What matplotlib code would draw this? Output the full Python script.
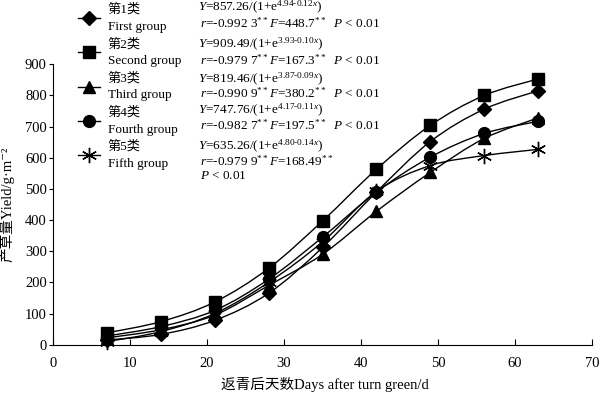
import numpy as np
import matplotlib
matplotlib.use('Agg')
import matplotlib.pyplot as plt
from matplotlib.path import Path
from matplotlib.patches import PathPatch
from matplotlib.lines import Line2D
from matplotlib.legend_handler import HandlerLine2D

plt.rcParams['font.family'] = ['Liberation Serif', 'Noto Sans CJK SC', 'DejaVu Serif']
plt.rcParams['mathtext.fontset'] = 'custom'
plt.rcParams['mathtext.rm'] = 'Liberation Serif'
plt.rcParams['mathtext.it'] = 'Liberation Serif:italic'

# days after turning green
days = [7, 14, 21, 28, 35, 42, 49, 56, 63]

# yield g/m2 for each group
group1 = [15, 33, 78, 165, 312, 490, 652, 756, 815]
group2 = [38, 74, 137, 245, 397, 563, 704, 800, 853]
group3 = [22, 48, 95, 190, 290, 428, 553, 662, 728]
group4 = [28, 58, 110, 210, 345, 490, 602, 678, 717]
group5 = [10, 42, 100, 200, 330, 492, 575, 607, 627]

names_cn = ['第1类', '第2类', '第3类', '第4类', '第5类']
names_en = ['First group', 'Second group', 'Third group', 'Fourth group', 'Fifth group']
equations = [
    r'$Y$=857.26/(1+e$^{\mathrm{4.94\text{-}0.12}x}$)',
    r'$Y$=909.49/(1+e$^{\mathrm{3.93\text{-}0.10}x}$)',
    r'$Y$=819.46/(1+e$^{\mathrm{3.87\text{-}0.09}x}$)',
    r'$Y$=747.76/(1+e$^{\mathrm{4.17\text{-}0.11}x}$)',
    r'$Y$=635.26/(1+e$^{\mathrm{4.80\text{-}0.14}x}$)',
]
stats = [
    r'$r$=-0.992 3$^{**}$$F$=448.7$^{**}$  $P$ < 0.01',
    r'$r$=-0.979 7$^{**}$$F$=167.3$^{**}$  $P$ < 0.01',
    r'$r$=-0.990 9$^{**}$$F$=380.2$^{**}$  $P$ < 0.01',
    r'$r$=-0.982 7$^{**}$$F$=197.5$^{**}$  $P$ < 0.01',
    r'$r$=-0.979 9$^{**}$$F$=168.49$^{**}$',
]
last_p = r'$P$ < 0.01'

series = [group1, group2, group3, group4, group5]
markers = ['D', 's', '^', 'o', (6, 2, 0)]
msizes = [7, 8.5, 9, 8.5, 11]


def smooth_path(x, y):
    # catmull-rom through the points, as bezier segments in data space
    p = np.column_stack([x, y]).astype(float)
    n = len(p)
    verts = [p[0]]
    codes = [Path.MOVETO]
    for i in range(n - 1):
        p0 = p[i - 1] if i > 0 else p[i]
        p3 = p[i + 2] if i + 2 < n else p[i + 1]
        c1 = p[i] + (p[i + 1] - p0) / 6
        c2 = p[i + 1] - (p3 - p[i]) / 6
        verts += [c1, c2, p[i + 1]]
        codes += [Path.CURVE4] * 3
    return Path(verts, codes)


class MarkerLeft(HandlerLine2D):
    def get_xdata(self, legend, xdescent, ydescent, width, height, fontsize):
        return np.array([-xdescent, -xdescent + width]), np.array([-xdescent + 3])


fig = plt.figure(figsize=(6, 3.95), dpi=100)
ax = fig.add_axes([53 / 600, 1 - 344.7 / 395, 539 / 600, 280.4 / 395])

handles = []
for vals, m, ms in zip(series, markers, msizes):
    ax.add_patch(PathPatch(smooth_path(days, vals), fill=False, edgecolor='black', lw=1.0))
    ax.plot(days, vals, linestyle='none', marker=m, markersize=ms, color='black',
            markeredgewidth=1.0, clip_on=False)
    handles.append(Line2D([], [], color='black', lw=1.0, marker=m, markersize=ms,
                          markeredgewidth=1.0))

ax.set_xlim(0, 70)
ax.set_ylim(0, 900)
ax.set_xticks(range(0, 71, 10))
ax.set_yticks(range(0, 901, 100))
ax.spines['top'].set_visible(False)
ax.spines['right'].set_visible(False)
ax.tick_params(axis='x', direction='in', length=4, pad=9, labelsize=10.5)
ax.tick_params(axis='y', direction='out', length=3, pad=1.5, labelsize=10.5)

ax.set_xlabel('返青后天数Days after turn green/d', fontsize=10.5)
ax.xaxis.set_label_coords(0.505, -0.115)
ax.set_ylabel('产草量Yield/g·m⁻²', fontsize=10.5)
ax.yaxis.set_label_coords(-0.072, 0.5)

labels = [c + '\n' + e for c, e in zip(names_cn, names_en)]
leg = fig.legend(handles, labels, loc='upper left', bbox_to_anchor=(78 / 600, 0.991),
                 frameon=False, fontsize=9.5, handlelength=1.7, handletextpad=0.55,
                 labelspacing=0.36, borderaxespad=0, borderpad=0,
                 handler_map={Line2D: MarkerLeft()})
for t in leg.get_texts():
    t.set_linespacing(1.55)

eq_y = [7.5, 44, 79, 110, 146.7]
st_y = [23.3, 60, 93.5, 125, 161.7]
for ey, sy, eq, st in zip(eq_y, st_y, equations, stats):
    fig.text(198 / 600, 1 - ey / 395, eq, fontsize=9.5, va='center', ha='left')
    fig.text(200 / 600, 1 - sy / 395, st, fontsize=9.5, va='center', ha='left')
fig.text(200 / 600, 1 - 176 / 395, last_p, fontsize=9.5, va='center', ha='left')

fig.savefig('out.png', dpi=100)
